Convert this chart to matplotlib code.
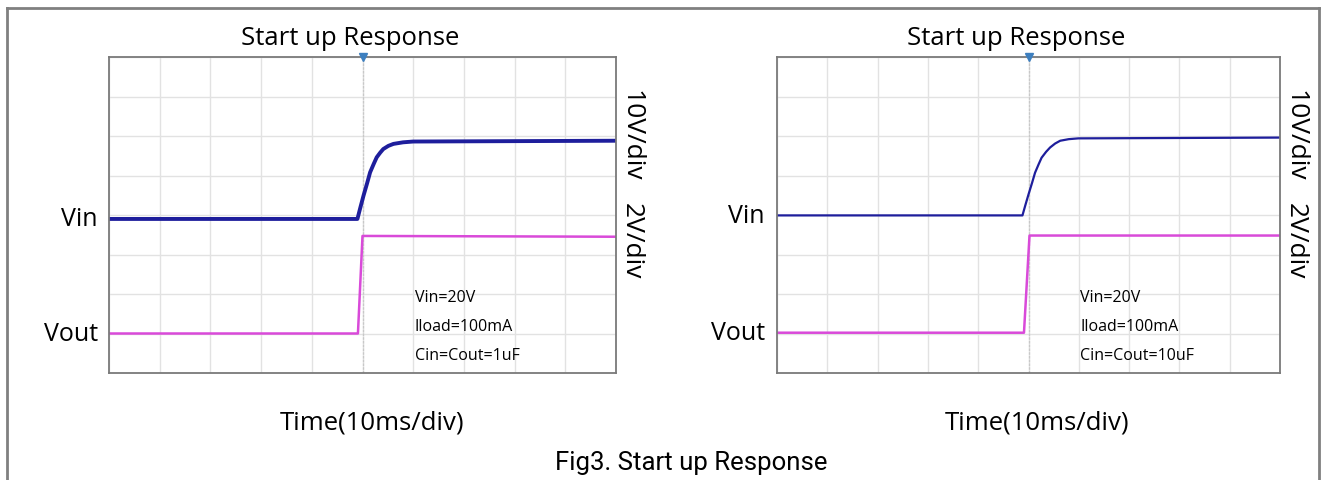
import numpy as np
import matplotlib.pyplot as plt
from matplotlib.lines import Line2D

plt.rcParams['font.family'] = ['Open Sans', 'DejaVu Sans']

# traces in scope divisions (x: 10 div, y: 8 div)
vin_x_1 = [0, 4.90, 4.96, 5.02, 5.09, 5.15, 5.22, 5.28, 5.35, 5.41, 5.51, 5.61, 5.80, 6.00, 10]
vin_y_1 = [3.90, 3.90, 4.20, 4.49, 4.80, 5.08, 5.29, 5.46, 5.58, 5.67, 5.75, 5.80, 5.84, 5.86, 5.88]
vout_x_1 = [0, 4.91, 5.00, 10]
vout_y_1 = [1.00, 1.00, 3.47, 3.45]

vin_x_2 = [0, 4.88, 4.94, 5.00, 5.07, 5.13, 5.20, 5.26, 5.35, 5.43, 5.53, 5.63, 5.80, 5.99, 10]
vin_y_2 = [3.99, 3.99, 4.26, 4.52, 4.81, 5.07, 5.28, 5.45, 5.60, 5.71, 5.81, 5.88, 5.92, 5.94, 5.96]
vout_x_2 = [0, 4.91, 5.02, 10]
vout_y_2 = [1.02, 1.02, 3.48, 3.48]

notes_1 = ["Vin=20V", "Iload=100mA", "Cin=Cout=1uF"]
notes_2 = ["Vin=20V", "Iload=100mA", "Cin=Cout=10uF"]

W, H = 1326, 481
fig = plt.figure(figsize=(W / 100, H / 100), dpi=100)

blue = '#1e1e9c'
magenta = '#d94ad9'

panels = [
    (109, 616, vin_x_1, vin_y_1, vout_x_1, vout_y_1, notes_1, 2.8, -0.22),
    (777, 1280, vin_x_2, vin_y_2, vout_x_2, vout_y_2, notes_2, 1.6, -0.24),
]

for left, right, vx, vy, ox, oy, notes, vlw, lab_x in panels:
    ax = fig.add_axes([left / W, 1 - 374 / H, (right - left) / W, (374 - 58) / H])
    ax.set_xlim(0, 10)
    ax.set_ylim(0, 8)
    ax.set_xticks(range(11))
    ax.set_yticks(range(9))
    ax.grid(True, color='#e2e2e2', lw=1.0)
    ax.tick_params(length=0, labelbottom=False, labelleft=False)
    for s in ax.spines.values():
        s.set_color('#7a7a7a')
        s.set_linewidth(1.3)
    ax.axvline(5, color='#c8c8c8', lw=0.9, ls=(0, (2, 1)))
    ax.plot([5], [8], marker='v', color='#3d7fbf', ms=6, clip_on=False, zorder=5)

    ax.plot(vx, vy, color=blue, lw=vlw, solid_joinstyle='round')
    ax.plot(ox, oy, color=magenta, lw=1.8)

    ax.set_title("Start up Response", fontsize=18.5, x=0.475, pad=9)
    ax.text(lab_x, vy[0], "Vin", fontsize=18, ha='right', va='center', clip_on=False)
    ax.text(lab_x, oy[0], "Vout", fontsize=18, ha='right', va='center', clip_on=False)

    ax.text(1.03, 0.755, "10V/div", transform=ax.transAxes, rotation=-90,
            fontsize=19, ha='center', va='center')
    ax.text(1.03, 0.42, "2V/div", transform=ax.transAxes, rotation=-90,
            fontsize=19, ha='center', va='center')

    ax.text(0.518, -0.155, "Time(10ms/div)", transform=ax.transAxes,
            fontsize=18.5, ha='center', va='center')

    for i, t in enumerate(notes):
        ax.text(6.03, 1.92 - i * 0.73, t, fontsize=11.5, ha='left', va='center')

fig.text(691 / W, 1 - 463 / H, "Fig3. Start up Response", fontsize=18.5,
         family=['Roboto', 'DejaVu Sans'], ha='center', va='center')

# outer frame
frame = '#808080'
fig.add_artist(Line2D([7 / W, 7 / W], [0, 1 - 9 / H], color=frame, lw=2))
fig.add_artist(Line2D([7 / W, 1319 / W], [1 - 9 / H, 1 - 9 / H], color=frame, lw=2))
fig.add_artist(Line2D([1319 / W, 1319 / W], [0, 1 - 9 / H], color=frame, lw=2))

fig.savefig("out.png", dpi=100)
